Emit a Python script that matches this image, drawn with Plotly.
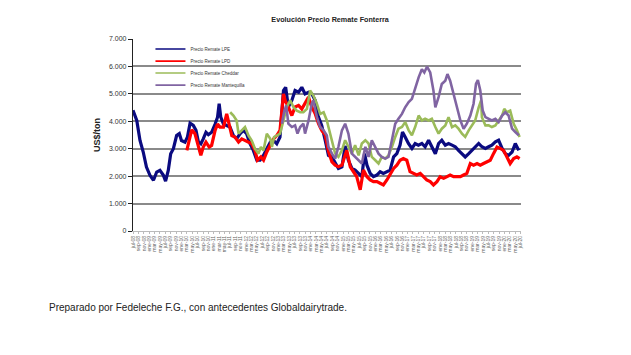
import pandas as pd
import plotly.graph_objects as go

START = pd.Timestamp("2008-07-01")

lpe_m = [0,1.4,2.6,3.8,5,6.3,7.6,8.8,10,11.3,12.1,13.1,14,15,16.2,17.2,18,19.3,20.2,21.2,22.4,23.4,24.3,25.2,26.1,27.1,28,29.2,30.5,31.4,32,32.6,33.6,34.8,36,37.3,38.5,39.8,41,42.2,43.5,44.7,46,47.2,48.5,49.7,51,52.2,53.4,54.6,55.9,56.7,57.7,59,60.2,61.5,62.7,63.9,65.2,66.4,67.7,68.9,70.1,71.4,72.6,73.9,75.1,76.3,77.6,78.8,80,81.3,82.5,83.8,85,86,86.9,88.1,89.3,90.6,91.8,93,94.3,95.5,96.8,98,99.2,100.1,101.1,102.3,103.6,104.8,106,107.3,108.5,109.8,111,112.3,113.5,114.7,116,117.2,118.5,119.7,120.9,122.2,123.4,124.7,125.9,127.1,128.4,129.6,130.9,132.1,133.3,134.6,135.8,137.1,138.3,139.5,140.8,142,143.3]
lpe_v = [4400,4030,3300,2880,2330,2030,1850,2150,2210,2030,1820,2210,2820,3000,3480,3550,3300,3240,3420,3930,3850,3670,3240,3180,3360,3600,3510,3600,3900,4150,4640,4150,3900,3850,3790,3480,3360,3550,3670,3550,3180,2940,2580,2580,2760,3000,3240,3300,3180,3420,5120,5240,4520,4760,5120,5060,5240,5000,5060,5000,4760,4150,3850,3300,2760,2700,2460,2280,2340,3100,2580,2280,2220,2100,1980,2820,2400,2100,1980,2040,2160,2100,2160,2220,2700,2820,3130,3610,3430,3190,3010,3190,3130,3190,3070,3310,3070,2820,3190,3310,3130,3190,3130,3070,2940,2820,2700,2820,2940,3070,3190,3070,3010,3070,3130,3250,3310,3010,2820,2760,2880,3190,2940]

lpd_m = [20,21,21.8,23,24.3,25.2,26.1,27.1,28.3,29.2,30.5,31.4,32.3,33.6,34.8,35.8,36.7,37.9,39.2,40.4,41.6,42.9,44.1,45.3,46.2,47.5,48.5,49.7,51,52.2,53.4,54.6,55.9,56.5,57.7,59,60.2,61.5,62.7,63.9,65.2,66.4,67.7,68.9,70.1,71.4,72.6,73.9,75.1,76.3,77.6,79.4,80.7,81.9,83.1,84.4,85.6,86.9,88.1,89.3,90.6,91.8,93,94.3,95.5,96.8,98,99.2,100.4,101.7,102.9,104.2,105.4,106.7,107.9,109.1,110.4,111.6,112.9,114.1,115.4,116.6,117.8,119.1,120.3,121.6,122.8,124,125.3,126.5,127.8,129,130.2,131.5,132.7,133.9,135.2,136.4,137.6,138.9,140.1,141.4,142.6,143.6]
lpd_v = [2940,3360,3690,3550,3120,2760,3060,3240,3060,3120,3670,3900,3790,3790,4270,3790,3480,3420,3240,3360,3300,3240,3180,2940,2580,2700,2580,2880,3120,3360,3480,3670,5000,4760,4520,4210,4520,4580,4450,4640,4880,4520,4270,3910,3670,3500,2900,2520,2400,2340,2400,2940,2340,2160,1980,1500,2220,1980,1860,1800,1800,1740,1680,1860,2040,2280,2400,2580,2640,2580,2160,2100,2040,2100,1980,1860,1800,1680,1800,1980,1920,1980,2040,1980,1980,1980,2040,2100,2460,2400,2460,2400,2460,2520,2580,2820,3060,3010,2940,2700,2460,2640,2700,2640]

ched_m = [36.1,37.3,38.5,39.2,40.4,41.6,42.9,44.1,45.3,46.6,47.5,48.5,49.7,51,51.6,52.4,53.4,54.6,55.9,57.1,58.4,59.6,60.8,62.1,63.3,64.6,65.8,67,68.3,69.5,70.8,72,72.6,73.9,75.1,76.3,77.6,78.8,80,81.3,82.5,83.8,85,86.3,87.5,88.7,90,91.2,92.4,93.7,94.9,96.2,97.4,98.6,99.9,101.1,102.4,103.6,104.8,106.1,107.3,108.5,109.8,111,112.3,113.5,114.7,116,117.2,118.5,119.7,120.9,122.2,123.4,124.7,125.9,127.1,128.4,129.3,129.6,130.9,132.1,133.3,134.6,135.8,137.1,137.9,138.9,140.1,141.4,142.6,143.6]
ched_v = [4330,4210,4030,3550,3670,3790,3480,3300,3000,2820,3060,2940,3550,3360,3060,3420,3480,3550,4030,4520,4760,4520,4390,4330,4330,4450,5120,4940,4640,4270,4330,4030,3790,3310,2820,2700,2940,3310,3070,2820,3130,2760,3190,3310,3190,2700,2580,2460,2700,2640,2760,3070,3430,3730,3790,3970,3670,3490,3790,4210,4030,4090,4030,4090,3790,3550,3730,3850,4150,3790,3850,3730,3550,3430,3670,3850,4030,4510,4760,4150,3850,3850,3790,3850,4030,4210,4450,4330,4390,3910,3670,3430]

mant_m = [55.3,56.1,56.9,57.7,59,60.2,61.1,62.1,63.3,63.9,65.2,66.4,67,68.3,69.5,70.8,72,72.6,73.9,75.1,76.3,77.6,78.8,80,81.3,82.5,83.8,85,86.3,87.5,88.7,90,91.2,92.4,93.7,94.9,96.2,97.4,98.6,99.9,101.1,102.4,103.6,104.8,106.1,107.3,108.2,109.2,110.4,111.6,112.3,113.5,114.7,116,116.8,117.8,119.1,120.3,121.6,122.8,124,125.3,126.5,127.4,128.1,129,129.9,130.9,132.1,133.3,134.6,135.8,137.1,138.3,139.5,140.8,142,143.3]
mant_v = [3910,4330,4580,3910,3790,3850,3550,3790,3910,3550,4030,4640,4760,4150,3790,3670,3480,3070,2820,2640,3070,3670,3910,3550,2820,2700,2580,2460,3070,2700,3310,3070,2820,2700,2640,2700,3310,3910,4090,4270,4510,4700,4820,5240,5600,5900,5780,5990,5780,5120,4510,4880,5360,5480,5720,5480,5000,4510,4030,3730,3910,4210,4640,5360,5500,5120,4390,4150,4090,4030,4090,3970,4210,4330,4210,3730,3610,3490]

series = [
    ("Precio Remate LPE", lpe_m, lpe_v, "#0a0a80", 3.2, "legend"),
    ("Precio Remate LPD", lpd_m, lpd_v, "#ff0000", 3.2, "legend2"),
    ("Precio Remate Cheddar", ched_m, ched_v, "#9bbb59", 2.6, "legend3"),
    ("Precio Remate Mantequilla", mant_m, mant_v, "#8064a2", 2.6, "legend4"),
]

mes = ["ene", "feb", "mar", "abr", "may", "jun", "jul", "ago", "sep", "oct", "nov", "dic"]
tick_dates = pd.date_range("2008-07-01", "2020-07-01", freq="2MS")
tick_text = [f"{mes[d.month - 1]}-{d.year % 100:02d}" for d in tick_dates]
y_ticks = [0, 1000, 2000, 3000, 4000, 5000, 6000, 7000]


def to_dates(months):
    return [START + pd.to_timedelta(m * 30.44, unit="D") for m in months]


fig = go.Figure()
for name, m, v, color, w, lg in series:
    assert len(m) == len(v), name
    fig.add_trace(go.Scatter(x=to_dates(m), y=v, mode="lines", name=name,
                             line=dict(color=color, width=w), showlegend=False))
    # legend entry with a thinner line, as in the original
    fig.add_trace(go.Scatter(x=[None], y=[None], mode="lines", name=name,
                             line=dict(color=color, width=1.6), legend=lg,
                             hoverinfo="skip"))

FONT = "Arial, Liberation Sans, sans-serif"
leg_common = dict(x=0.045, xanchor="left", yanchor="middle", bgcolor="rgba(0,0,0,0)",
                  font=dict(size=4.5, family=FONT, color="#333"), borderwidth=0)
fig.update_layout(
    width=623, height=347,
    margin=dict(l=125, r=110, t=31, b=124),
    paper_bgcolor="white", plot_bgcolor="white",
    separators=",.",
    font=dict(family=FONT, color="#333"),
    title=dict(text="<b>Evolución Precio Remate Fonterra</b>", x=0.517, xanchor="center",
               y=0.968, yanchor="middle", font=dict(size=7.2, color="#222")),
    showlegend=True,
    legend=dict(y=0.948, **leg_common),
    legend2=dict(y=0.885, **leg_common),
    legend3=dict(y=0.823, **leg_common),
    legend4=dict(y=0.760, **leg_common),
    xaxis=dict(type="date", range=[pd.Timestamp("2008-07-01"), pd.Timestamp("2020-07-05")],
               tickmode="array", tickvals=tick_dates, ticktext=tick_text, tickangle=-90,
               tickfont=dict(size=5, color="#666"), showgrid=False, zeroline=False,
               showline=True, linecolor="#bbb", linewidth=1, ticks="outside",
               ticklen=2, tickcolor="#bbb"),
    yaxis=dict(range=[0, 7000], tickmode="array", tickvals=y_ticks, tickformat=",.0f",
               tickfont=dict(size=7, color="#333"), showgrid=True, gridcolor="#8a8a8a",
               gridwidth=1.5, zeroline=False, showline=True, linecolor="#222", linewidth=1.2,
               ticks="outside", ticklen=4, tickcolor="#222",
               title=dict(text="<b>US$/ton</b>", font=dict(size=9, color="#222"), standoff=6)),
    annotations=[dict(text="Preparado por Fedeleche F.G., con antecedentes Globaldairytrade.",
                      xref="paper", yref="paper", x=-0.222, y=-0.396, xanchor="left",
                      yanchor="middle", showarrow=False,
                      font=dict(size=10, family=FONT, color="#222"))],
)

fig.write_html("out.html")
